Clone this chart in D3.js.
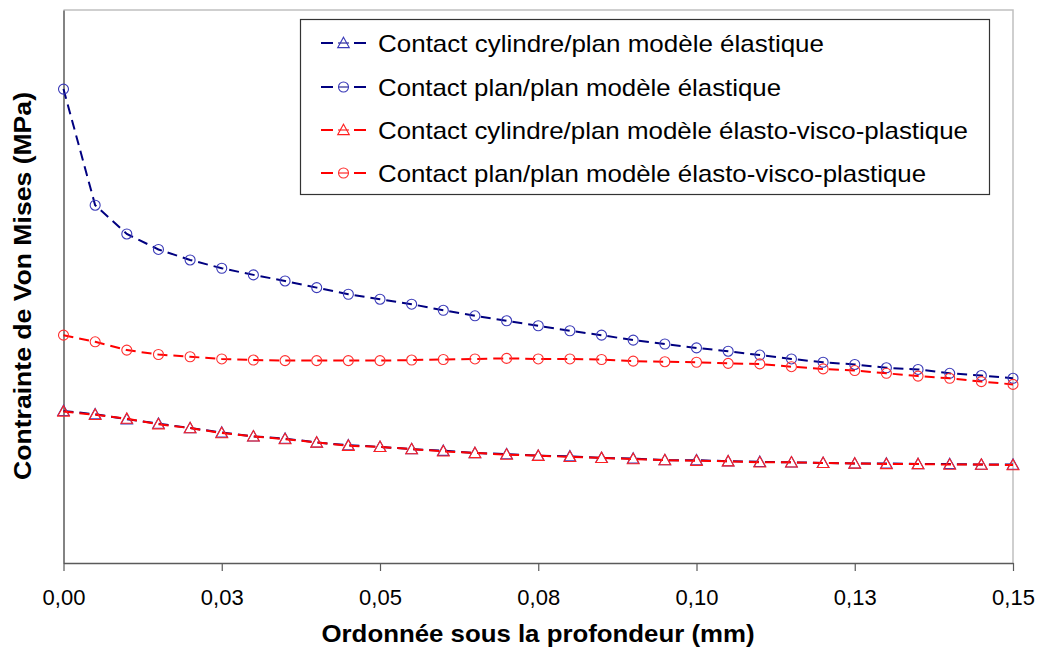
<!DOCTYPE html>
<html>
<head>
<meta charset="utf-8">
<script src="https://cdn.jsdelivr.net/npm/d3@7"></script>
<style>
  html, body { margin: 0; padding: 0; background: #fff; }
  svg { display: block; font-family: "Liberation Sans", Arial, sans-serif; }
</style>
</head>
<body>
<svg id="chart" width="1039" height="648"></svg>
<script>
// ---- data (x in mm, y in arbitrary MPa units) ----
const depth = [0.000,0.005,0.010,0.015,0.020,0.025,0.030,0.035,0.040,0.045,
               0.050,0.055,0.060,0.065,0.070,0.075,0.080,0.085,0.090,0.095,
               0.100,0.105,0.110,0.115,0.120,0.125,0.130,0.135,0.140,0.145,0.150];

const cylElastic = [27.5,26.9,26.0,25.2,24.4,23.6,22.9,22.5,21.8,21.3,
                    21.0,20.6,20.3,19.9,19.7,19.4,19.3,19.0,18.9,18.6,
                    18.6,18.4,18.3,18.2,18.1,18.0,18.0,17.9,17.9,17.8,17.8];

const planElastic = [85.7,64.7,59.5,56.7,54.8,53.3,52.1,51.0,49.8,48.6,
                     47.7,46.8,45.7,44.7,43.8,42.9,42.0,41.2,40.3,39.6,
                     38.9,38.3,37.6,36.9,36.3,35.9,35.3,35.0,34.3,33.9,33.4];

const cylEVP = [27.4,26.8,26.1,25.1,24.4,23.5,22.9,22.4,21.8,21.2,
                21.0,20.6,20.2,19.9,19.6,19.4,19.2,19.0,18.8,18.6,
                18.5,18.4,18.2,18.2,18.1,18.0,17.9,17.9,17.8,17.8,17.7];

const planEVP = [41.2,40.0,38.5,37.7,37.3,36.9,36.7,36.6,36.6,36.6,
                 36.6,36.7,36.8,36.9,37.0,36.9,36.9,36.8,36.5,36.4,
                 36.3,36.1,36.0,35.5,35.1,34.8,34.3,33.8,33.4,32.8,32.3];

const xTicks = [0, 0.025, 0.05, 0.075, 0.10, 0.125, 0.15];
const xTickLabels = ["0,00","0,03","0,05","0,08","0,10","0,13","0,15"];

const seriesNames = ["Contact cylindre/plan modèle élastique",
                     "Contact plan/plan modèle élastique",
                     "Contact cylindre/plan modèle élasto-visco-plastique",
                     "Contact plan/plan modèle élasto-visco-plastique"];
const seriesValues = [cylElastic, planElastic, cylEVP, planEVP];
const seriesMarkers = ["triangle", "circle", "triangle", "circle"];
const seriesLine = ["#000080", "#000080", "#FF0000", "#FF0000"];
const seriesMark = ["#3a3ab8", "#3a3ab8", "#FF2020", "#FF3030"];

const xTitle = "Ordonnée sous la profondeur (mm)";
const yTitle = "Contrainte de Von Mises (MPa)";

// ---- layout ----
const svg = d3.select("#chart");
const L = 63.5, R = 1013, T = 10, B = 563;
const x = d3.scaleLinear().domain([0, 0.15]).range([L, R]);
const y = d3.scaleLinear().domain([0, 100]).range([B, T]);

// plot area border (top/right light)
svg.append("path")
  .attr("d", `M${L},${T}H${R}V${B}`)
  .attr("fill", "none").attr("stroke", "#c0c0c0").attr("stroke-width", 1.5);

// x axis
const xAxis = d3.axisBottom(x).tickValues(xTicks)
  .tickFormat((d, i) => xTickLabels[i]).tickSize(8).tickPadding(18).tickSizeOuter(0);
const gx = svg.append("g").attr("transform", `translate(0,${B})`).call(xAxis);
gx.select(".domain").attr("stroke", "#5a5a5a").attr("stroke-width", 1.5);
gx.selectAll(".tick line").attr("stroke", "#5a5a5a").attr("stroke-width", 1.2);
gx.selectAll(".tick text").attr("fill", "#000").style("font-size", "22px")
  .style("font-family", "'Liberation Sans', Arial, sans-serif");

// y axis (no labels)
const gy = svg.append("g").attr("transform", `translate(${L},0)`)
  .call(d3.axisLeft(y).tickValues([]).tickSizeOuter(0));
gy.select(".domain").attr("stroke", "#5a5a5a").attr("stroke-width", 1.5);

// titles
svg.append("text").attr("x", 538).attr("y", 642)
  .attr("text-anchor", "middle").style("font-size", "24px").style("font-weight", "bold")
  .attr("textLength", 433).attr("lengthAdjust", "spacingAndGlyphs")
  .text(xTitle);
svg.append("text").attr("transform", `translate(31,286) rotate(-90)`)
  .attr("text-anchor", "middle").style("font-size", "24px").style("font-weight", "bold")
  .attr("textLength", 388).attr("lengthAdjust", "spacingAndGlyphs")
  .text(yTitle);

// marker drawer
function drawMarker(g, type, cx, cy, color) {
  if (type === "circle") {
    g.append("circle").attr("cx", cx).attr("cy", cy).attr("r", 5)
      .attr("fill", "none").attr("stroke", color).attr("stroke-width", 1.1);
  } else {
    const s = 5.8;
    g.append("path")
      .attr("d", `M${cx},${cy - s}L${cx + s},${cy + s * 0.8}L${cx - s},${cy + s * 0.8}Z`)
      .attr("fill", "none").attr("stroke", color).attr("stroke-width", 1.1);
  }
}

const line = d3.line().x((d, i) => x(depth[i])).y(d => y(d));

seriesValues.forEach((vals, k) => {
  const g = svg.append("g");
  g.append("path").datum(vals).attr("d", line)
    .attr("fill", "none").attr("stroke", seriesLine[k]).attr("stroke-width", 2)
    .attr("stroke-dasharray", "10,6");
  vals.forEach((v, i) => drawMarker(g, seriesMarkers[k], x(depth[i]), y(v), seriesMark[k]));
});

// legend
const lg = svg.append("g");
lg.append("rect").attr("x", 300.5).attr("y", 19.5).attr("width", 689).attr("height", 175)
  .attr("fill", "#fff").attr("stroke", "#333").attr("stroke-width", 1.2);
const rows = [43, 87, 130, 173];
const legendWidths = [446, 403, 590, 548];
seriesNames.forEach((name, k) => {
  const cy = rows[k];
  lg.append("line").attr("x1", 321).attr("x2", 333).attr("y1", cy).attr("y2", cy)
    .attr("stroke", seriesLine[k]).attr("stroke-width", 2);
  lg.append("line").attr("x1", 354).attr("x2", 366).attr("y1", cy).attr("y2", cy)
    .attr("stroke", seriesLine[k]).attr("stroke-width", 2);
  lg.append("line").attr("x1", 338).attr("x2", 349).attr("y1", cy).attr("y2", cy)
    .attr("stroke", seriesLine[k]).attr("stroke-width", 1);
  drawMarker(lg, seriesMarkers[k], 343.5, cy, seriesMark[k]);
  lg.append("text").attr("x", 378).attr("y", cy + 8.5)
    .style("font-size", "24px").attr("fill", "#000")
    .attr("textLength", legendWidths[k]).attr("lengthAdjust", "spacingAndGlyphs")
    .text(name);
});
</script>
</body>
</html>
